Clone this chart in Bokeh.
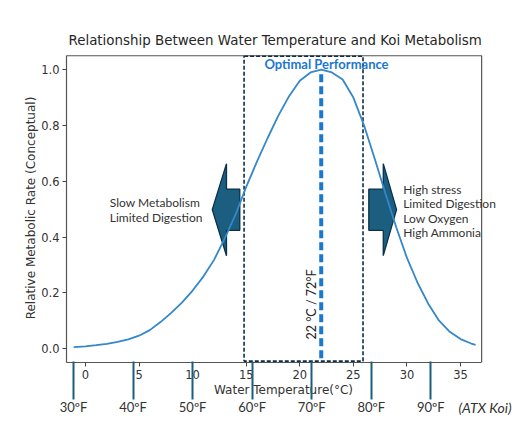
import math

from bokeh.core.properties import value
from bokeh.embed import file_html
from bokeh.models import (FixedTicker, Label, LinearAxis, NumeralTickFormatter,
                          PrintfTickFormatter, Range1d, Title)
from bokeh.plotting import figure
from bokeh.resources import INLINE

# Conceptual metabolic-rate curve (water temperature in degrees C)
temp_c = [-1.1, 0, 1, 2, 3, 4, 5, 6, 7, 8, 9, 10, 11, 12, 13, 14, 15, 16, 17,
          18, 19, 20, 21, 22, 23, 24, 25, 26, 27, 28, 29, 30, 31, 32, 33, 34,
          35, 36, 36.4]
rate = [0.005, 0.008, 0.012, 0.017, 0.024, 0.033, 0.046, 0.066, 0.095, 0.128,
        0.165, 0.208, 0.258, 0.318, 0.395, 0.48, 0.58, 0.67, 0.755, 0.835,
        0.905, 0.96, 0.99, 1.0, 0.99, 0.965, 0.90, 0.80, 0.68, 0.555, 0.435,
        0.325, 0.235, 0.16, 0.10, 0.06, 0.034, 0.018, 0.013]

c_ticks = [0, 5, 10, 15, 20, 25, 30, 35]
rate_ticks = [0.0, 0.2, 0.4, 0.6, 0.8, 1.0]
f_ticks = [30, 40, 50, 60, 70, 80, 90]

optimal_c = 22
optimal_f = 72
optimal_band = [14.8, 25.9]

cold_notes = ["Slow Metabolism", "Limited Digestion"]
warm_notes = ["High stress", "Limited Digestion", "Low Oxygen", "High Ammonia"]


def c_to_f(c):
    return c * 9 / 5 + 32


DARK_TEXT = "#333333"
CURVE = "#3487c9"
OPT_BLUE = "#1a78cf"
TEAL = "#1b5e80"
TEAL_EDGE = "#0b3047"
BOX = "#555555"
NOTE_FONT = "Lato"
MPL_FONT = "DejaVu Sans"

# axes box (data space) and the slightly larger visible window around it
box_x = (-1.77, 36.97)
box_y = (-0.05, 1.05)
view_x = (box_x[0], 38.73)
view_y = (box_y[0], 1.058)

p = figure(width=525, height=435, output_backend="svg", toolbar_location=None,
           x_range=Range1d(*view_x), y_range=Range1d(*view_y),
           min_border_left=66, min_border_right=25, min_border_top=53,
           min_border_bottom=73)

# chart title sits right above the box
p.add_layout(Title(text="Relationship Between Water Temperature and Koi Metabolism",
                   align="left", offset=2, standoff=12, text_font=MPL_FONT,
                   text_font_size="13.4px", text_font_style="normal",
                   text_color="#262626"), "above")

p.grid.visible = False
p.outline_line_color = None
p.background_fill_color = "white"
p.border_fill_color = "white"

for ax in (p.xaxis[0], p.yaxis[0]):
    ax.major_tick_out = 4
    ax.major_tick_in = 0
    ax.minor_tick_line_color = None
    ax.major_tick_line_color = "#444444"
    ax.axis_line_color = BOX
    ax.axis_line_width = 1.2
    ax.major_label_text_font = MPL_FONT
    ax.major_label_text_font_size = "11.5px"
    ax.major_label_text_color = DARK_TEXT
    ax.axis_label_text_font = MPL_FONT
    ax.axis_label_text_font_size = "12px"
    ax.axis_label_text_font_style = "normal"
    ax.axis_label_text_color = DARK_TEXT

p.xaxis.bounds = box_x
p.xaxis.ticker = FixedTicker(ticks=c_ticks)
p.xaxis.major_label_standoff = 3
p.xaxis.axis_label = "Water Temperature(°C)"
p.xaxis.axis_label_standoff = 1

p.yaxis.bounds = box_y
p.yaxis.ticker = FixedTicker(ticks=rate_ticks)
p.yaxis.formatter = NumeralTickFormatter(format="0.0")
p.yaxis.major_label_standoff = 3
p.yaxis.axis_label = "Relative Metabolic Rate (Conceptual)"
p.yaxis.axis_label_standoff = 0

# top and right sides of the axes box
p.line([box_x[0], box_x[1], box_x[1]], [box_y[1], box_y[1], box_y[0]],
       line_color=BOX, line_width=1.2)

# Block arrows pointing away from the optimal band
mid = 0.498
head_half, shaft_half = 0.165, 0.074
lx_tip, lx_base, lx_end = 11.83, 13.16, 14.40
rx_end, rx_base, rx_tip = 26.44, 27.79, 29.03
arrow_y = [mid, mid + head_half, mid + shaft_half, mid + shaft_half,
           mid - shaft_half, mid - shaft_half, mid - head_half]
left_arrow_x = [lx_tip, lx_base, lx_base, lx_end, lx_end, lx_base, lx_base]
right_arrow_x = [rx_tip, rx_base, rx_base, rx_end, rx_end, rx_base, rx_base]
p.patches([left_arrow_x, right_arrow_x], [arrow_y, arrow_y],
          fill_color=TEAL, line_color=TEAL_EDGE, line_width=1.3)

# Optimal band outline
p.quad(left=[optimal_band[0]], right=[optimal_band[1]], bottom=[-0.045],
       top=[1.048], fill_color=None, line_color="#0f2d44", line_width=1.6,
       line_dash="4 2")

# Metabolic curve
p.line(temp_c, rate, line_color=CURVE, line_width=1.8)

# Optimal temperature marker
p.segment(x0=[optimal_c], y0=[-0.035], x1=[optimal_c], y1=[0.99],
          line_color=OPT_BLUE, line_width=4, line_dash="8 4")

p.text(x=[22.49], y=[1.022], text=["Optimal Performance"],
       text_font=value(NOTE_FONT), text_font_size="13px",
       text_font_style="bold", text_color=OPT_BLUE, text_align="center",
       text_baseline="middle")

p.text(x=[21.07], y=[0.158], text=[f"{optimal_c} °C / {optimal_f}°F"],
       angle=math.pi / 2, text_font=value(NOTE_FONT), text_font_size="12.5px",
       text_color="#222222", text_align="center", text_baseline="middle")

# Side notes
p.text(x=[2.27] * len(cold_notes), y=[0.524, 0.470], text=cold_notes,
       text_font=value(NOTE_FONT), text_font_size="12px", text_color=DARK_TEXT,
       text_align="left", text_baseline="middle")
p.text(x=[29.65] * len(warm_notes), y=[0.572, 0.521, 0.467, 0.417],
       text=warm_notes, text_font=value(NOTE_FONT), text_font_size="12px",
       text_color=DARK_TEXT, text_align="left", text_baseline="middle")

# Fahrenheit scale under the Celsius axis: long ticks reach up to the box
p.extra_x_ranges = {"degF": Range1d(c_to_f(view_x[0]), c_to_f(view_x[1]))}
f_axis = LinearAxis(x_range_name="degF", ticker=FixedTicker(ticks=f_ticks),
                    formatter=PrintfTickFormatter(format="%dºF"),
                    major_tick_in=38, major_tick_out=0,
                    major_tick_line_color=TEAL, major_tick_line_width=2,
                    minor_tick_line_color=None, axis_line_color=None,
                    major_label_standoff=-1,
                    major_label_text_font=NOTE_FONT,
                    major_label_text_font_size="13px",
                    major_label_text_color=DARK_TEXT)
p.add_layout(f_axis, "below")

# source note, positioned in data space beside the Fahrenheit labels
p.add_layout(Label(x=34.8, y=-0.211, text="(ATX Koi)", text_font=NOTE_FONT,
                   text_font_size="14px", text_font_style="italic",
                   text_color=DARK_TEXT, text_align="left",
                   text_baseline="middle"), "above")

open("out.html", "w").write(file_html(p, INLINE))
